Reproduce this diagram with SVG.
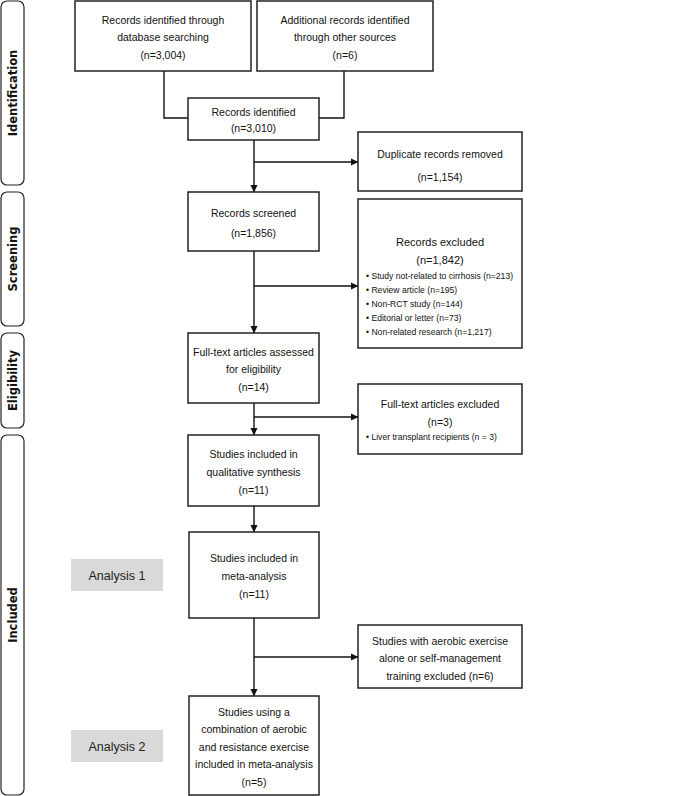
<svg xmlns="http://www.w3.org/2000/svg" width="685" height="796" viewBox="0 0 685 796">
<style>
.box{fill:#fff;stroke:#222;stroke-width:1.5}
.side{fill:#fff;stroke:#222;stroke-width:1.2}
.t{font-family:"Liberation Sans",Arial,sans-serif;font-size:10.5px;fill:#111;text-anchor:middle}
.b{font-family:"Liberation Sans",Arial,sans-serif;font-size:8.6px;fill:#111}
.s{font-family:"DejaVu Sans",Verdana,sans-serif;font-size:11.5px;font-weight:bold;fill:#111;text-anchor:middle}
.a{font-family:"Liberation Sans",Arial,sans-serif;font-size:12.5px;fill:#222;text-anchor:middle}
.gray{fill:#d9d9d9}
.c{fill:none;stroke:#111;stroke-width:1.4}
</style>
<defs>
<marker id="arr" markerWidth="8" markerHeight="8" refX="7" refY="4" orient="auto" markerUnits="userSpaceOnUse">
<path d="M0,0.5 L7.5,4 L0,7.5 Z" fill="#111"/>
</marker>
</defs>
<g id="stages">
<g id="stage-identification"><rect class="side" x="1" y="1" width="23" height="184" rx="6"/><text class="s" transform="translate(16.5,93) rotate(-90)">Identification</text></g>
<g id="stage-screening"><rect class="side" x="1" y="192" width="23" height="134" rx="6"/><text class="s" transform="translate(16.5,259) rotate(-90)">Screening</text></g>
<g id="stage-eligibility"><rect class="side" x="1" y="333" width="23" height="95" rx="6"/><text class="s" transform="translate(16.5,380.5) rotate(-90)">Eligibility</text></g>
<g id="stage-included"><rect class="side" x="1" y="435" width="23" height="360" rx="6"/><text class="s" transform="translate(16.5,615) rotate(-90)">Included</text></g>
</g>
<g id="connectors">
<polyline class="c" points="164,71 164,118 188,118"/>
<polyline class="c" points="344,71 344,118 319,118"/>
<line class="c" x1="254" y1="140" x2="254" y2="192" marker-end="url(#arr)"/>
<line class="c" x1="254" y1="162" x2="358" y2="162" marker-end="url(#arr)"/>
<line class="c" x1="254" y1="251" x2="254" y2="333" marker-end="url(#arr)"/>
<line class="c" x1="254" y1="286" x2="358" y2="286" marker-end="url(#arr)"/>
<line class="c" x1="254" y1="403" x2="254" y2="435" marker-end="url(#arr)"/>
<line class="c" x1="254" y1="417" x2="358" y2="417" marker-end="url(#arr)"/>
<line class="c" x1="254" y1="506" x2="254" y2="532" marker-end="url(#arr)"/>
<line class="c" x1="254" y1="618" x2="254" y2="696" marker-end="url(#arr)"/>
<line class="c" x1="254" y1="657" x2="358" y2="657" marker-end="url(#arr)"/>
</g>
<g id="n-db"><rect class="box" x="75" y="1" width="176" height="70"/>
<text class="t" x="163" y="24">Records identified through</text><text class="t" x="163" y="41">database searching</text><text class="t" x="163" y="59">(n=3,004)</text></g>
<g id="n-other"><rect class="box" x="257" y="1" width="176" height="70"/>
<text class="t" x="345" y="24">Additional records identified</text><text class="t" x="345" y="41">through other sources</text><text class="t" x="345" y="59">(n=6)</text></g>
<g id="n-identified"><rect class="box" x="188" y="98" width="131" height="42"/>
<text class="t" x="253.5" y="116">Records identified</text><text class="t" x="253.5" y="132">(n=3,010)</text></g>
<g id="n-duplicates"><rect class="box" x="358" y="132" width="164" height="59"/>
<text class="t" x="440" y="158">Duplicate records removed</text><text class="t" x="440" y="181">(n=1,154)</text></g>
<g id="n-screened"><rect class="box" x="188" y="192" width="131" height="59"/>
<text class="t" x="253.5" y="217">Records screened</text><text class="t" x="253.5" y="237">(n=1,856)</text></g>
<g id="n-excluded"><rect class="box" x="358" y="199" width="164" height="149"/>
<text class="t" x="440" y="246" style="font-size:11px">Records excluded</text><text class="t" x="440" y="264" style="font-size:11px">(n=1,842)</text>
<text class="b" x="366" y="279">• Study not-related to cirrhosis (n=213)</text>
<text class="b" x="366" y="293">• Review article (n=195)</text>
<text class="b" x="366" y="307">• Non-RCT study (n=144)</text>
<text class="b" x="366" y="321">• Editorial or letter (n=73)</text>
<text class="b" x="366" y="335">• Non-related research (n=1,217)</text></g>
<g id="n-fulltext"><rect class="box" x="188" y="333" width="131" height="70"/>
<text class="t" x="253.5" y="356">Full-text articles assessed</text><text class="t" x="253.5" y="373">for eligibility</text><text class="t" x="253.5" y="391">(n=14)</text></g>
<g id="n-ft-excluded"><rect class="box" x="358" y="384" width="164" height="70"/>
<text class="t" x="440" y="408">Full-text articles excluded</text><text class="t" x="440" y="426">(n=3)</text>
<text class="b" x="366" y="440">• Liver transplant recipients (n = 3)</text></g>
<g id="n-qualitative"><rect class="box" x="188" y="435" width="131" height="71"/>
<text class="t" x="253.5" y="458">Studies included in</text><text class="t" x="253.5" y="476">qualitative synthesis</text><text class="t" x="253.5" y="494">(n=11)</text></g>
<g id="n-meta"><rect class="box" x="189" y="532" width="130" height="86"/>
<text class="t" x="254" y="562">Studies included in</text><text class="t" x="254" y="580">meta-analysis</text><text class="t" x="254" y="598">(n=11)</text></g>
<g id="n-analysis1"><rect class="gray" x="71" y="559" width="92" height="32"/><text class="a" x="117" y="580">Analysis 1</text></g>
<g id="n-aerobic-excluded"><rect class="box" x="358" y="625" width="164" height="63"/>
<text class="t" x="440" y="645">Studies with aerobic exercise</text><text class="t" x="440" y="662">alone or self-management</text><text class="t" x="440" y="680">training excluded (n=6)</text></g>
<g id="n-combination"><rect class="box" x="189" y="696" width="130" height="99"/>
<text class="t" x="254" y="716">Studies using a</text><text class="t" x="254" y="733">combination of aerobic</text><text class="t" x="254" y="751">and resistance exercise</text><text class="t" x="254" y="768">included in meta-analysis</text><text class="t" x="254" y="786">(n=5)</text></g>
<g id="n-analysis2"><rect class="gray" x="71" y="730" width="92" height="32"/><text class="a" x="117" y="751">Analysis 2</text></g>
</svg>
